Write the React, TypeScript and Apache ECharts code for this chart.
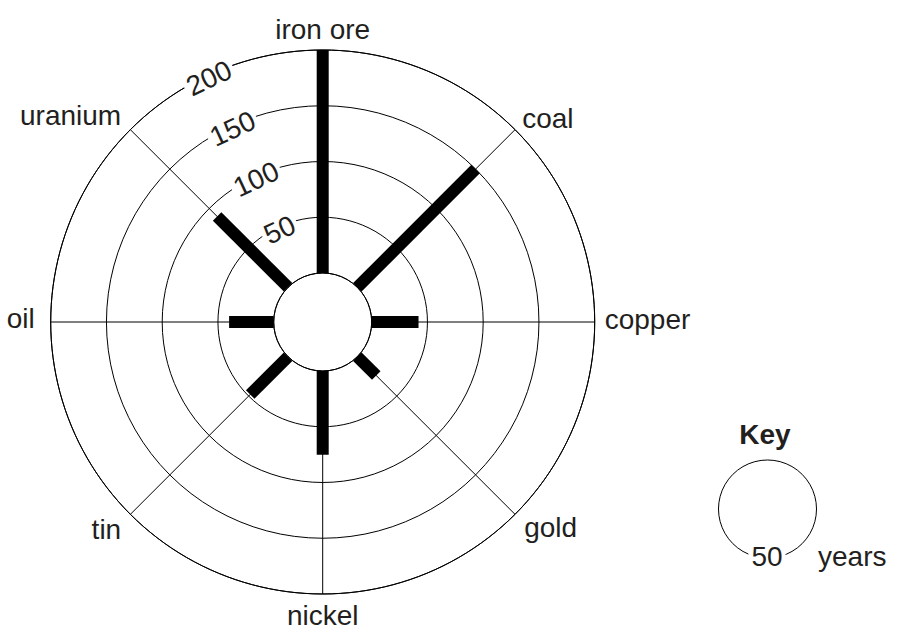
import React, { useEffect, useRef } from "react";
import * as echarts from "echarts";

const categories = ["iron ore", "coal", "copper", "gold", "nickel", "tin", "oil", "uranium"];
const reserveYears = [200, 150, 42, 24, 75, 48, 40, 90];
const radiusTicks = [50, 100, 150, 200];
const keyYears = "50";
const keyUnit = "years";
const keyTitle = "Key";

// per-label padding [top, right, bottom, left] to fine-tune label placement
const labelPadding = [
  [0, 0, 11, 0],
  [0, 0, 0, 10],
  [0, 0, 6, 14],
  [2, 0, 0, 12],
  [11, 0, 0, 0],
  [4, 12, 0, 0],
  [0, 20, 8, 0],
  [0, 12, 3, 0],
];

const FONT = "'Liberation Sans', Arial, Helvetica, sans-serif";
const TEXT = "#231f20";
const LINE = "#000";
const INNER_R = 49;
const OUTER_R = 272;
const STEP = 360 / categories.length;
const LABEL_ANGLE = (115 * Math.PI) / 180;
const LABEL_ROT = (25 * Math.PI) / 180;

export default function App() {
  const ref = useRef<HTMLDivElement>(null);
  useEffect(() => {
    document.body.style.margin = "0";
    const chart = echarts.init(ref.current!, null, { renderer: "svg" });
    const rich: Record<string, any> = {};
    categories.forEach((_, i) => {
      rich["c" + i] = { fontSize: 28, color: TEXT, fontFamily: FONT, padding: labelPadding[i] };
    });
    chart.setOption({
      animation: false,
      backgroundColor: "#fff",
      polar: { center: [322.7, 322], radius: [INNER_R, OUTER_R] },
      angleAxis: {
        type: "value",
        min: 0,
        max: 360,
        interval: STEP,
        startAngle: 90,
        clockwise: true,
        axisLine: { show: true, lineStyle: { color: LINE, width: 1 } },
        axisTick: { show: false },
        splitLine: { show: true, lineStyle: { color: LINE, width: 1 } },
        axisLabel: {
          fontSize: 28,
          color: TEXT,
          fontFamily: FONT,
          margin: -4,
          rich,
          formatter: (v: number) => {
            const i = Math.round(v / STEP) % categories.length;
            return "{c" + i + "|" + categories[i] + "}";
          },
        },
      },
      radiusAxis: {
        type: "value",
        min: 0,
        max: 200,
        interval: 50,
        axisLine: { show: false },
        axisTick: { show: false },
        axisLabel: { show: false },
        splitLine: { show: true, lineStyle: { color: LINE, width: 1 } },
      },
      series: [
        {
          type: "custom",
          coordinateSystem: "polar",
          encode: { radius: 0, angle: 1 },
          data: reserveYears.map((v, i) => [v, i * STEP]),
          renderItem: (params: any, api: any) => {
            const a = api.value(1);
            const s = api.coord([0, a]);
            const e = api.coord([api.value(0), a]);
            return {
              type: "line",
              shape: { x1: s[0], y1: s[1], x2: e[0], y2: e[1] },
              style: { stroke: LINE, lineWidth: 12, lineCap: "butt" },
            };
          },
          z: 5,
        },
        {
          type: "custom",
          coordinateSystem: "polar",
          encode: { radius: 0, angle: 1 },
          data: radiusTicks.map((v) => [v, 0]),
          renderItem: (params: any, api: any) => {
            const cs = params.coordSys;
            const p = api.coord([api.value(0), 0]);
            const rr = cs.cy - p[1] - 3;
            return {
              type: "text",
              x: cs.cx + rr * Math.cos(LABEL_ANGLE),
              y: cs.cy - rr * Math.sin(LABEL_ANGLE),
              rotation: LABEL_ROT,
              style: {
                text: String(api.value(0)),
                fontSize: 28,
                fontFamily: FONT,
                fill: TEXT,
                align: "center",
                verticalAlign: "middle",
                backgroundColor: "#fff",
                padding: [0, 3],
              },
            };
          },
          z: 6,
        },
      ],
      graphic: [
        {
          type: "text",
          x: 765,
          y: 434,
          style: { text: keyTitle, fontSize: 28, fontWeight: "bold", fontFamily: FONT, fill: TEXT, align: "center", verticalAlign: "middle" },
        },
        {
          type: "circle",
          shape: { cx: 767.5, cy: 509, r: INNER_R },
          style: { fill: "none", stroke: LINE, lineWidth: 1 },
        },
        {
          type: "text",
          x: 767,
          y: 556,
          z: 10,
          style: { text: keyYears, fontSize: 28, fontFamily: FONT, fill: TEXT, align: "center", verticalAlign: "middle", backgroundColor: "#fff", padding: [0, 3] },
        },
        {
          type: "text",
          x: 818,
          y: 556,
          style: { text: keyUnit, fontSize: 28, fontFamily: FONT, fill: TEXT, align: "left", verticalAlign: "middle" },
        },
      ],
    });
    return () => chart.dispose();
  }, []);
  return <div ref={ref} style={{ width: 897, height: 641 }} />;
}
